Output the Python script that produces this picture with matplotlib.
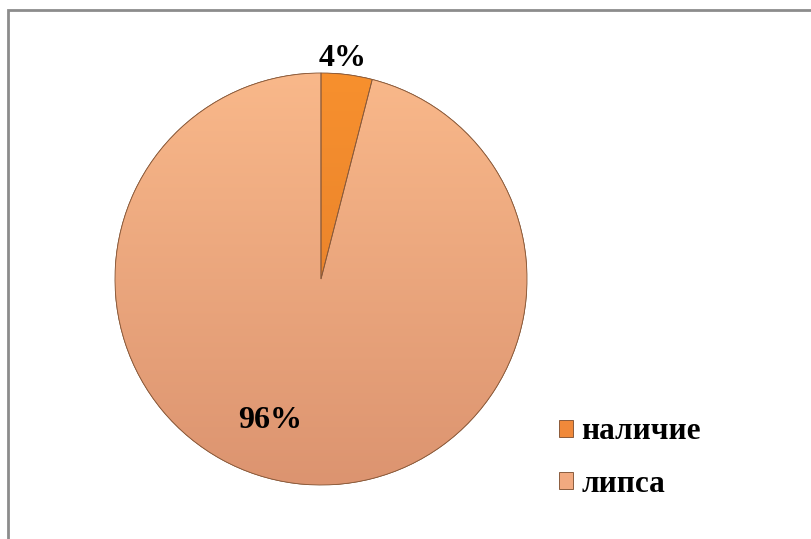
import matplotlib
matplotlib.use("Agg")
import matplotlib.pyplot as plt
import numpy as np
from matplotlib.colors import to_rgb
from matplotlib.patches import Rectangle, Wedge

categories = ["наличие", "липса"]
values = [4, 96]
labels = ["4%", "96%"]
colors = ["#F0893A", "#F2AA80"]
top_colors = ["#F7902E", "#F9B88A"]
bottom_colors = ["#E07A2A", "#DC9470"]

W, H = 811, 539
fig = plt.figure(figsize=(W / 100, H / 100), dpi=100)
fig.patch.set_facecolor("white")

# border of chart area
fig.add_artist(Rectangle((8 / W, -0.1), 1.2, (539 - 10.5) / H + 0.1,
                         transform=fig.transFigure, fill=False,
                         edgecolor="#8c8c8c", linewidth=2))

cx, cy, r = 321, 279, 206
ax = fig.add_axes([(cx - r) / W, (H - cy - r) / H, 2 * r / W, 2 * r / H])
wedges, _ = ax.pie(values, colors=colors, startangle=90, counterclock=False,
                   radius=1, wedgeprops=dict(edgecolor="#7a4a2a", linewidth=0.6))
ax.set_xlim(-1, 1)
ax.set_ylim(-1, 1)
ax.set_aspect("equal")
ax.axis("off")

# vertical gradient shading inside each wedge
for w, tc, bc in zip(wedges, top_colors, bottom_colors):
    t = np.array(to_rgb(tc))
    b = np.array(to_rgb(bc))
    s = np.linspace(0, 1, 256)[:, None]
    grad = (t[None, :] * (1 - s) + b[None, :] * s)[:, None, :]
    im = ax.imshow(grad, extent=(-1, 1, -1, 1), origin="upper", aspect="auto",
                   zorder=w.get_zorder() + 0.1)
    im.set_clip_path(w)
    edge = Wedge(w.center, w.r, w.theta1, w.theta2, fill=False,
                 edgecolor="#8a5a3a", linewidth=0.6, zorder=w.get_zorder() + 0.2)
    ax.add_patch(edge)

font = dict(family="Liberation Serif", weight="bold", size=23, color="black")
ax.text((343 - cx) / r, (cy - 58) / r, labels[0], ha="center", va="center", **font)
ax.text((270 - cx) / r, (cy - 421) / r, labels[1], ha="center", va="center", **font)

ax.legend(wedges, categories, loc="center left",
          bbox_to_anchor=(531 / W, (H - 458) / H), bbox_transform=fig.transFigure,
          frameon=False, prop=dict(family="Liberation Serif", weight="bold", size=22.5),
          handlelength=0.45, handleheight=0.45, handletextpad=0.25, labelspacing=0.75)

fig.savefig("out.png", dpi=100, facecolor="white")
